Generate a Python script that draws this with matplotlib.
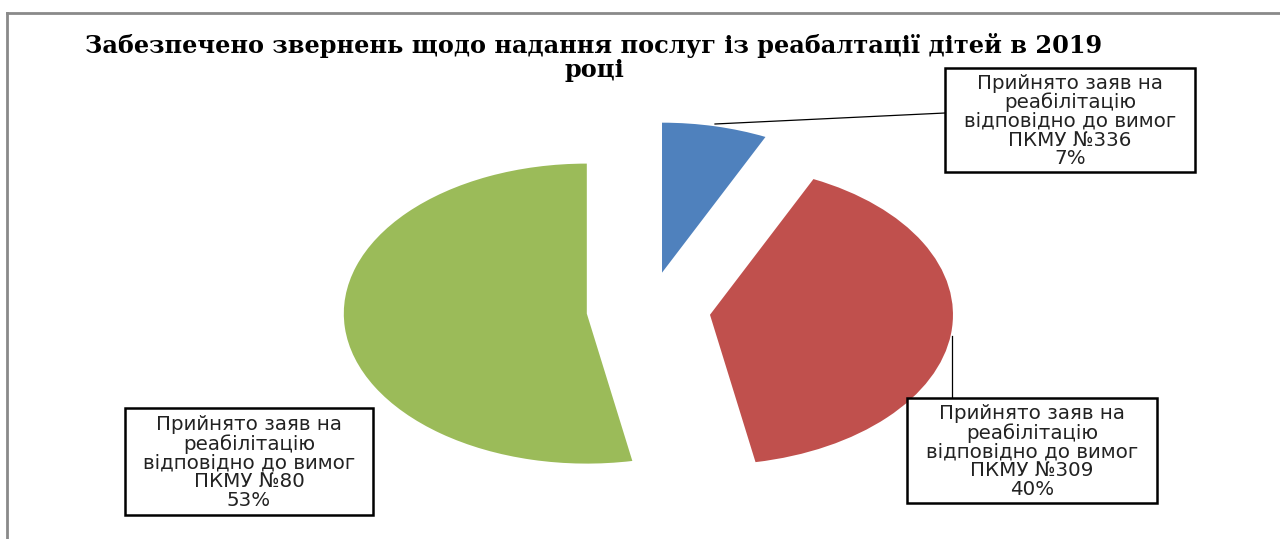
import matplotlib
matplotlib.use("Agg")
import matplotlib.pyplot as plt
from matplotlib.lines import Line2D

title = "Забезпечено звернень щодо надання послуг із реабалтації дітей в 2019\nроці"
labels = [
    "Прийнято заяв на\nреабілітацію\nвідповідно до вимог\nПКМУ №336\n7%",
    "Прийнято заяв на\nреабілітацію\nвідповідно до вимог\nПКМУ №309\n40%",
    "Прийнято заяв на\nреабілітацію\nвідповідно до вимог\nПКМУ №80\n53%",
]
values = [7, 40, 53]
colors = ["#4F81BD", "#C0504D", "#9BBB59"]
explode = [0.255, 0.255, 0.255]

W, H = 1280, 539
fig = plt.figure(figsize=(W / 100, H / 100), dpi=100)
ax = fig.add_axes([0, 0, 1, 1])

# pixel mapping: centre (648.5, 310), rx=243 px, ry=150 px
cxp, cyp, rx, ry = 648.5, 310.0, 243.0, 150.0

def px(xp, yp):
    return (xp - cxp) / rx, (cyp - yp) / ry

ax.pie(values, colors=colors, explode=explode, startangle=90, counterclock=False,
       radius=1.0, wedgeprops=dict(linewidth=0))
ax.set_aspect("auto")
ax.set_xlim((0 - cxp) / rx, (W - cxp) / rx)
ax.set_ylim((cyp - H) / ry, (cyp - 0) / ry)
ax.axis("off")

# frame border lines
fig.add_artist(Line2D([7 / W, 1], [1 - 12.5 / H, 1 - 12.5 / H], color="#8a8a8a", lw=2))
fig.add_artist(Line2D([7 / W, 7 / W], [0, 1 - 12.5 / H], color="#8a8a8a", lw=2))

# title
fig.text(594 / W, 1 - 57 / H, title, ha="center", va="center",
         fontsize=17.3, fontweight="bold", family="DejaVu Serif", linespacing=1.0)

# leader lines
x1, y1 = px(715, 124); x2, y2 = px(945, 113)
ax.plot([x1, x2], [y1, y2], color="black", lw=0.9)
x1, y1 = px(952, 336); x2, y2 = px(952, 398)
ax.plot([x1, x2], [y1, y2], color="black", lw=0.9)

positions = [(945, 68, 1195, 172), (907, 398, 1157, 503), (125, 408, 373, 515)]
for lab, (l, t, r, b) in zip(labels, positions):
    xl, yt = px(l, t); xr, yb = px(r, b)
    ax.add_patch(plt.Rectangle((xl, yb), xr - xl, yt - yb, fc="white", ec="black", lw=1.8, zorder=3))
    xc, yc = px((l + r) / 2, (t + b) / 2 + 1)
    ax.text(xc, yc, lab, ha="center", va="center", fontsize=14.3, family="DejaVu Sans",
            color="#222222", linespacing=0.98, zorder=4)

fig.savefig("out.png", dpi=100)
